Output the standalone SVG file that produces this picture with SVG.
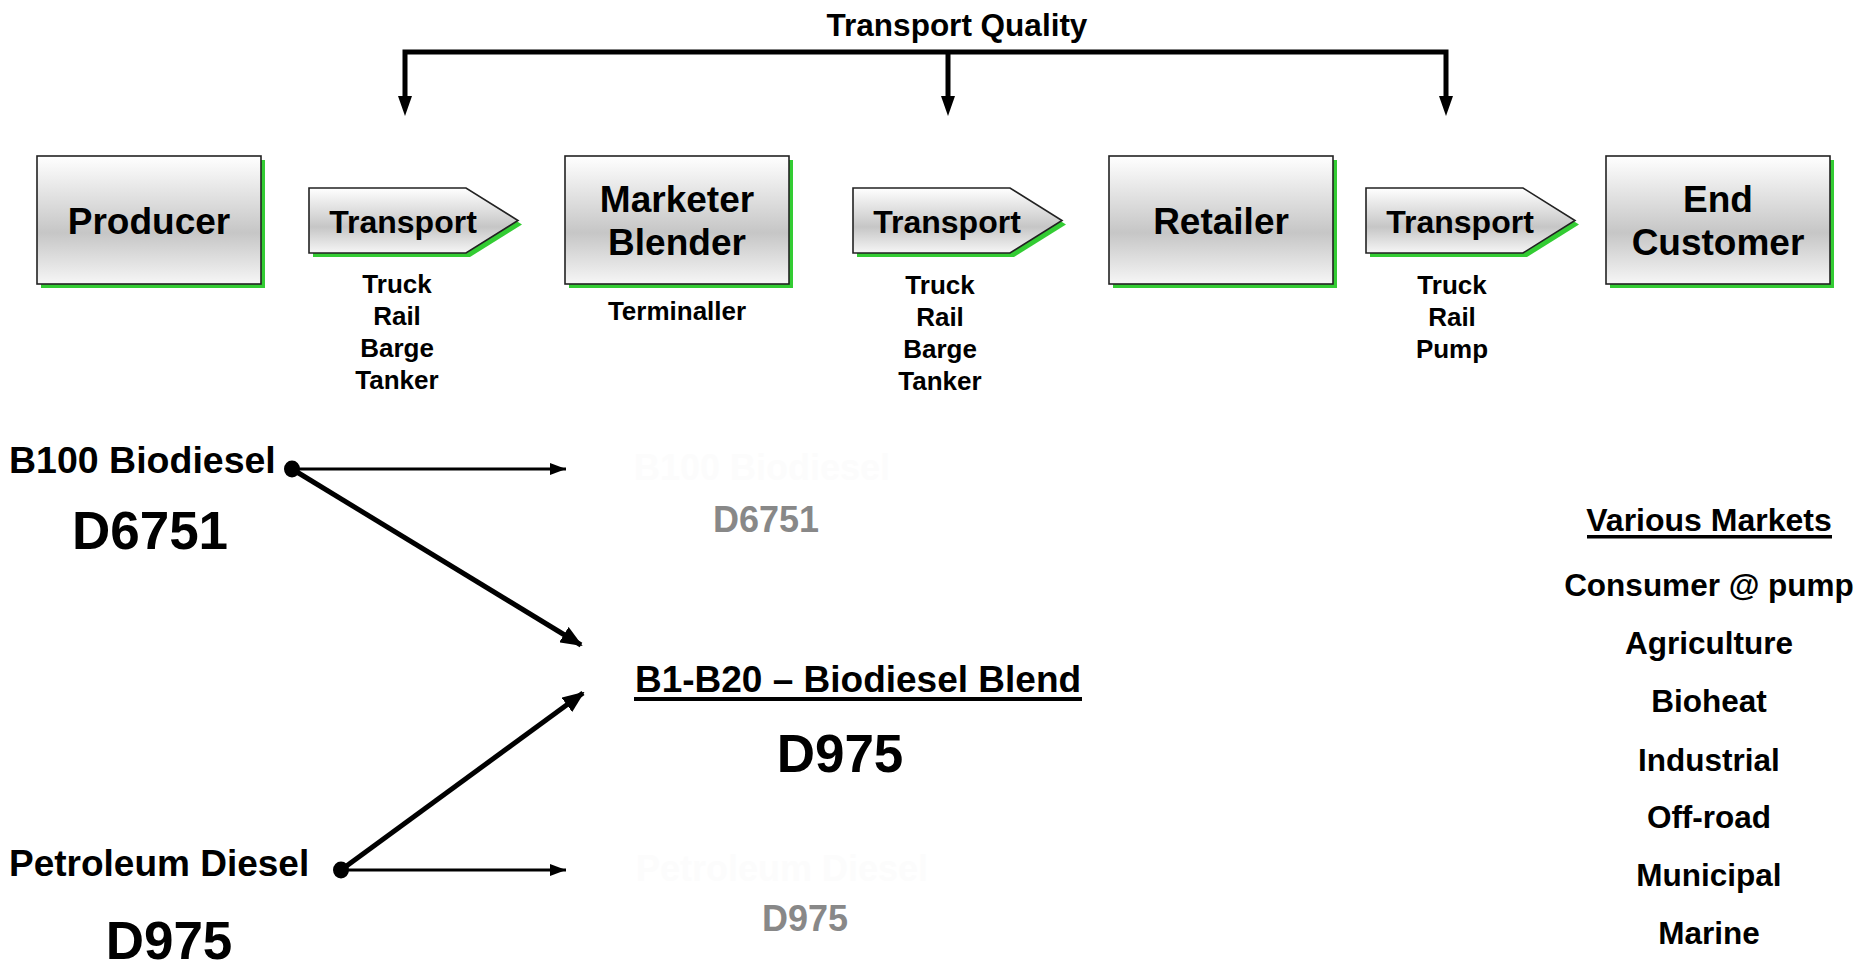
<svg xmlns="http://www.w3.org/2000/svg" width="1862" height="965" viewBox="0 0 1862 965">
<style>
text{font-family:"Liberation Sans",Arial,sans-serif;font-weight:bold;fill:#000;text-anchor:middle}
.box{fill:url(#g);stroke:#222;stroke-width:1.6}
.sh{fill:#33cc33}
.big{font-size:37px}
.tr{font-size:32px}
.sm{font-size:26px}
.code{font-size:53px}
.gray{font-size:36px;fill:#888}
.ghost{font-size:36px;fill:#fcfcfc}
.mk{font-size:31.5px}
.thin{stroke:#000;stroke-width:3;fill:none}
.thick{stroke:#000;stroke-width:5;fill:none}
</style>
<defs>
<linearGradient id="g" x1="0" y1="0" x2="0" y2="1">
<stop offset="0" stop-color="#ffffff"/>
<stop offset="0.6" stop-color="#c6c6c6"/>
<stop offset="1" stop-color="#f6f6f6"/>
</linearGradient>
<marker id="ah" markerUnits="userSpaceOnUse" markerWidth="16" markerHeight="12" refX="16" refY="6" orient="auto">
<path d="M0,0 L16,6 L0,12 z" fill="#000"/>
</marker>
<marker id="ahb" markerUnits="userSpaceOnUse" markerWidth="22" markerHeight="18" refX="20" refY="9" orient="auto">
<path d="M0,0 L22,9 L0,18 z" fill="#000"/>
</marker>
</defs>
<rect width="1862" height="965" fill="#fff"/>

<text x="957" y="36" style="font-size:31.5px">Transport Quality</text>

<g id="connectors">
<path d="M405,98 V52 H1446 V98" stroke="#000" stroke-width="5" fill="none" stroke-linejoin="miter"/>
<line x1="948" y1="52" x2="948" y2="98" stroke="#000" stroke-width="5"/>
<polygon points="398,96 412,96 405,116" fill="#000"/>
<polygon points="941,96 955,96 948,116" fill="#000"/>
<polygon points="1439,96 1453,96 1446,116" fill="#000"/>
<line x1="292" y1="469" x2="566" y2="469" class="thin" marker-end="url(#ah)"/>
<line x1="292" y1="469" x2="581" y2="645" class="thick" marker-end="url(#ahb)"/>
<line x1="341" y1="870" x2="566" y2="870" class="thin" marker-end="url(#ah)"/>
<line x1="341" y1="870" x2="583" y2="693" class="thick" marker-end="url(#ahb)"/>
<ellipse cx="292" cy="469" rx="8" ry="8.5" fill="#000"/>
<ellipse cx="341" cy="870" rx="8" ry="8.5" fill="#000"/>
</g>

<g id="producer">
<rect class="sh" x="41" y="160" width="224" height="128"/>
<rect class="box" x="37" y="156" width="224" height="128"/>
<text class="big" x="149" y="234">Producer</text>
</g>

<g id="transport1">
<polygon class="sh" points="313,192 470,192 522,224.5 470,257 313,257"/>
<polygon class="box" points="309,188 466,188 518,220.5 466,253 309,253"/>
<text class="tr" x="403" y="233">Transport</text>
<text class="sm" x="397" y="293">Truck</text>
<text class="sm" x="397" y="325">Rail</text>
<text class="sm" x="397" y="357">Barge</text>
<text class="sm" x="397" y="389">Tanker</text>
</g>

<g id="marketer">
<rect class="sh" x="569" y="160" width="224" height="128"/>
<rect class="box" x="565" y="156" width="224" height="128"/>
<text class="big" x="677" y="212">Marketer</text>
<text class="big" x="677" y="255">Blender</text>
<text class="sm" x="677" y="320">Terminaller</text>
</g>

<g id="transport2">
<polygon class="sh" points="857,192 1014,192 1066,224.5 1014,257 857,257"/>
<polygon class="box" points="853,188 1010,188 1062,220.5 1010,253 853,253"/>
<text class="tr" x="947" y="233">Transport</text>
<text class="sm" x="940" y="294">Truck</text>
<text class="sm" x="940" y="326">Rail</text>
<text class="sm" x="940" y="358">Barge</text>
<text class="sm" x="940" y="390">Tanker</text>
</g>

<g id="retailer">
<rect class="sh" x="1113" y="160" width="224" height="128"/>
<rect class="box" x="1109" y="156" width="224" height="128"/>
<text class="big" x="1221" y="234">Retailer</text>
</g>

<g id="transport3">
<polygon class="sh" points="1370,192 1527,192 1579,224.5 1527,257 1370,257"/>
<polygon class="box" points="1366,188 1523,188 1575,220.5 1523,253 1366,253"/>
<text class="tr" x="1460" y="233">Transport</text>
<text class="sm" x="1452" y="294">Truck</text>
<text class="sm" x="1452" y="326">Rail</text>
<text class="sm" x="1452" y="358">Pump</text>
</g>

<g id="endcustomer">
<rect class="sh" x="1610" y="160" width="224" height="128"/>
<rect class="box" x="1606" y="156" width="224" height="128"/>
<text class="big" x="1718" y="212">End</text>
<text class="big" x="1718" y="255">Customer</text>
</g>

<g id="b100">
<text style="font-size:37.5px;text-anchor:start" x="9" y="473">B100 Biodiesel</text>
<text class="code" x="150" y="549">D6751</text>
</g>

<g id="b100-out">
<text class="ghost" x="762" y="480">B100 Biodiesel</text>
<text class="gray" x="766" y="532">D6751</text>
</g>

<g id="blend">
<text style="font-size:37px" x="858" y="692">B1-B20 – Biodiesel Blend</text>
<rect x="634" y="697" width="448" height="4" fill="#000"/>
<text class="code" x="840" y="772">D975</text>
</g>

<g id="petro">
<text style="font-size:37px;text-anchor:start" x="9" y="876">Petroleum Diesel</text>
<text class="code" x="169" y="959">D975</text>
</g>

<g id="petro-out">
<text class="ghost" x="782" y="881">Petroleum Diesel</text>
<text class="gray" x="805" y="931">D975</text>
</g>

<g id="markets">
<text style="font-size:32px" x="1709" y="531">Various Markets</text>
<rect x="1587" y="535" width="245" height="3.5" fill="#000"/>
<text class="mk" x="1709" y="596">Consumer @ pump</text>
<text class="mk" x="1709" y="654">Agriculture</text>
<text class="mk" x="1709" y="712">Bioheat</text>
<text class="mk" x="1709" y="771">Industrial</text>
<text class="mk" x="1709" y="828">Off-road</text>
<text class="mk" x="1709" y="886">Municipal</text>
<text class="mk" x="1709" y="944">Marine</text>
</g>
</svg>
